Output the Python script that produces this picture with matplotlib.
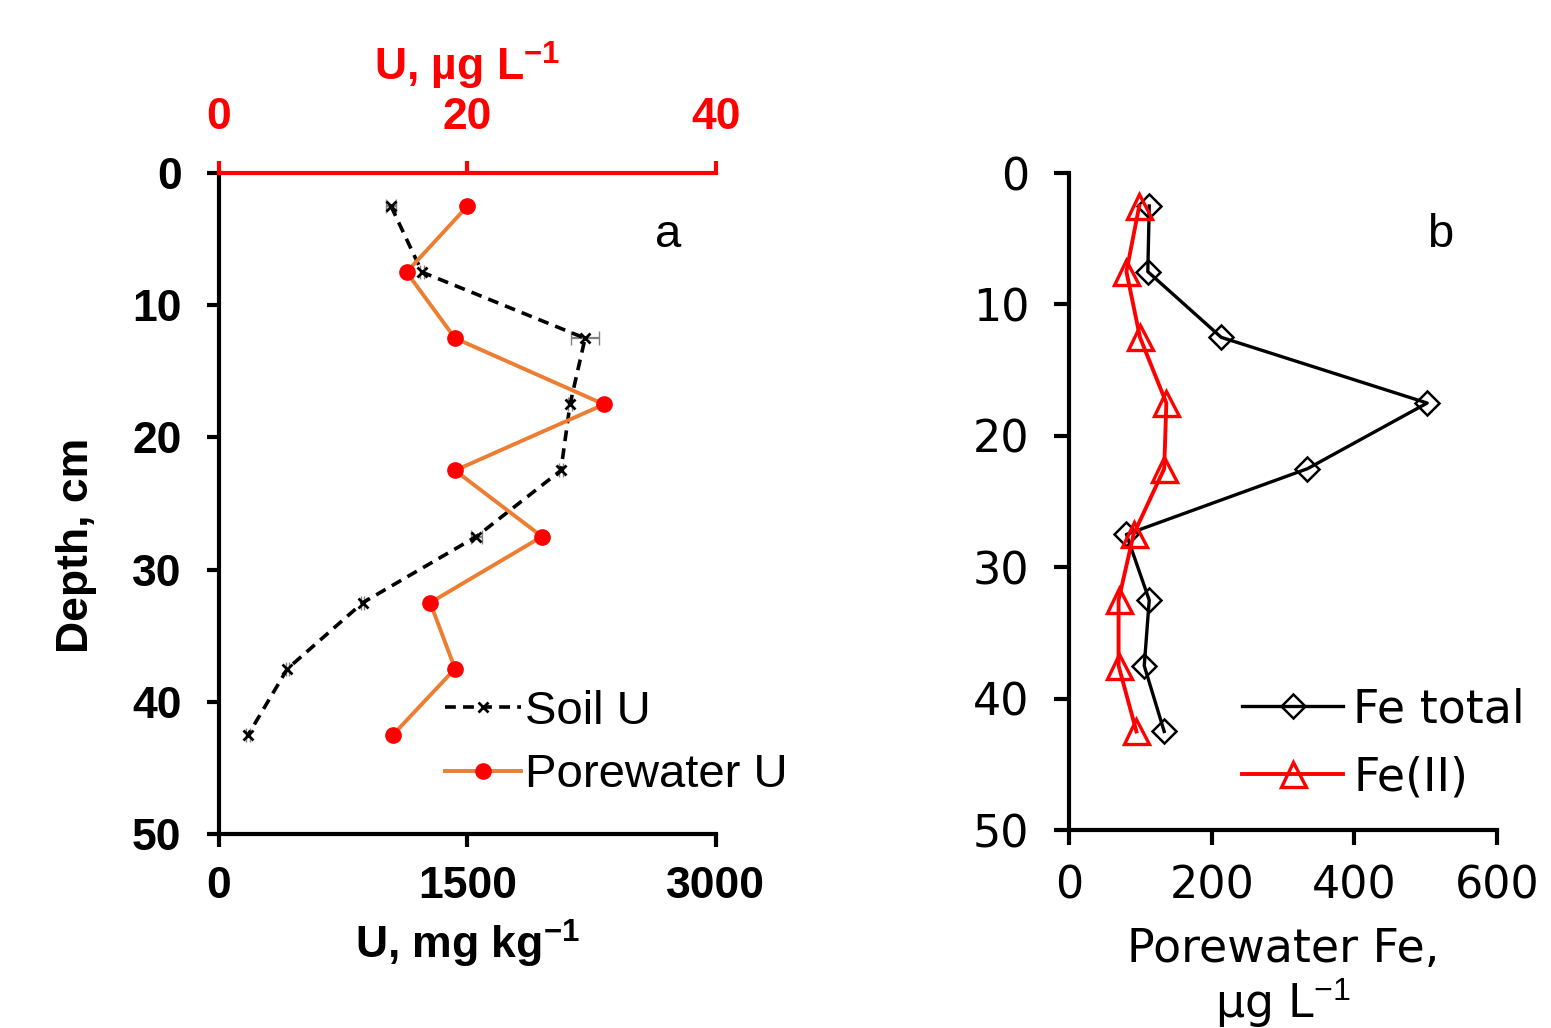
import matplotlib
matplotlib.use("Agg")
import matplotlib.pyplot as plt

# ---------------- data ----------------
depth = [2.5, 7.5, 12.5, 17.5, 22.5, 27.5, 32.5, 37.5, 42.5]

# panel a
soil_u = [1038, 1226, 2210, 2119, 2064, 1554, 868, 413, 176]        # mg/kg
soil_u_err = [30, 10, 85, 15, 10, 35, 10, 10, 10]
pore_u = [20.0, 15.1, 19.0, 31.0, 19.0, 26.0, 17.0, 19.0, 14.0]      # ug/L

# panel b
fe_total = [112, 110, 213, 502, 334, 80, 112, 105, 133]              # ug/L
fe_ii = [98, 80, 99, 136, 133, 90, 69, 69, 94]                       # ug/L

depth_ticks = [0, 10, 20, 30, 40, 50]
# ------------------------------------------------------------

plt.rcParams["mathtext.fontset"] = "custom"
plt.rcParams["mathtext.rm"] = "Liberation Sans"
plt.rcParams["mathtext.bf"] = "Liberation Sans:bold"

ARIAL = "Liberation Sans"
VERD = "DejaVu Sans"
ORANGE = "#ED7D31"
LW_AX = 3.0

fig = plt.figure(figsize=(15.51, 10.28), dpi=100)

# ---------------- panel a ----------------
ax1 = fig.add_axes([0.1412, 0.1887, 0.3204, 0.643])
ax1.errorbar(soil_u, depth, xerr=soil_u_err, fmt="none", ecolor="gray",
             elinewidth=1.6, capsize=5, zorder=2)
l_soil, = ax1.plot(soil_u, depth, color="black", ls=(0, (3.0, 2.0)), lw=2.6,
                   marker="x", ms=7, mew=2.0, zorder=3)
ax1.set_xlim(0, 3000)
ax1.set_ylim(50, 0)
ax1.set_xticks([0, 1500, 3000])
ax1.set_yticks(depth_ticks)
for s in ["right", "top"]:
    ax1.spines[s].set_visible(False)
for s in ["left", "bottom"]:
    ax1.spines[s].set_linewidth(LW_AX)
ax1.tick_params(axis="both", direction="out", length=9, width=LW_AX)
ax1.tick_params(axis="y", pad=18)
ax1.tick_params(axis="x", pad=14)
for lab in ax1.get_xticklabels() + ax1.get_yticklabels():
    lab.set_fontfamily(ARIAL)
    lab.set_fontweight("bold")
    lab.set_fontsize(32)
ax1.set_xlabel(r"U, mg kg$^{\mathbf{-1}}$", fontfamily=ARIAL, fontweight="bold",
               fontsize=32, labelpad=8)
ax1.set_ylabel("Depth, cm", fontfamily=ARIAL, fontweight="bold", fontsize=32)
ax1.yaxis.set_label_coords(-0.245, 0.437)

ax2 = ax1.twiny()
l_pore, = ax2.plot(pore_u, depth, color=ORANGE, lw=2.8, marker="o", ms=11,
                   mfc="red", mec="red", zorder=4)
ax2.set_xlim(0, 40)
ax2.set_xticks([0, 20, 40])
for s in ["left", "right", "bottom"]:
    ax2.spines[s].set_visible(False)
ax2.spines["top"].set_color("red")
ax2.spines["top"].set_linewidth(LW_AX)
ax2.tick_params(axis="x", colors="red", direction="out", length=9,
                width=LW_AX, pad=16)
for lab in ax2.get_xticklabels():
    lab.set_fontfamily(ARIAL)
    lab.set_fontweight("bold")
    lab.set_fontsize(32)
ax2.set_xlabel(r"U, µg L$^{\mathbf{-1}}$", color="red", fontfamily=ARIAL,
               fontweight="bold", fontsize=32, labelpad=12)

fig.legend(handles=[l_soil, l_pore], labels=["Soil U", "Porewater U"],
           loc="center left", bbox_to_anchor=(0.287, 0.2767),
           bbox_transform=fig.transFigure, frameon=False,
           prop={"family": ARIAL, "size": 34}, handlelength=1.6,
           handletextpad=0.1, labelspacing=0.42, borderpad=0, borderaxespad=0)
fig.text(668 / 1551, 1 - 235 / 1028, "a", fontfamily=ARIAL, fontsize=34,
         ha="center", va="center")

# ---------------- panel b ----------------
ax3 = fig.add_axes([0.6895, 0.1926, 0.2757, 0.639])
l_fet, = ax3.plot(fe_total, depth, color="black", lw=2.4, marker="D", ms=12,
                  mfc="none", mec="black", mew=1.8)
l_fe2, = ax3.plot(fe_ii, depth, color="red", lw=2.8, marker="^", ms=18,
                  mfc="none", mec="red", mew=2.4)
ax3.set_xlim(0, 600)
ax3.set_ylim(50, 0)
ax3.set_xticks([0, 200, 400, 600])
ax3.set_yticks(depth_ticks)
for s in ["right", "top"]:
    ax3.spines[s].set_visible(False)
for s in ["left", "bottom"]:
    ax3.spines[s].set_linewidth(LW_AX)
ax3.tick_params(axis="both", direction="out", length=11, width=LW_AX)
ax3.tick_params(axis="y", pad=18)
ax3.tick_params(axis="x", pad=14)
for lab in ax3.get_xticklabels() + ax3.get_yticklabels():
    lab.set_fontfamily(VERD)
    lab.set_fontsize(32)
ax3.set_xlabel("Porewater Fe,\nµg L$^{-1}$", fontfamily=VERD, fontsize=33,
               labelpad=14, linespacing=1.1)

fig.legend(handles=[l_fet, l_fe2], labels=["Fe total", "Fe(II)"],
           loc="center left", bbox_to_anchor=(0.801, 0.2763),
           bbox_transform=fig.transFigure, frameon=False,
           prop={"family": VERD, "size": 33}, handlelength=2.2,
           handletextpad=0.22, labelspacing=0.5, borderpad=0, borderaxespad=0)
fig.text(1440 / 1551, 1 - 235 / 1028, "b", fontfamily=ARIAL, fontsize=34,
         ha="center", va="center")

fig.savefig("out.png", dpi=100)
